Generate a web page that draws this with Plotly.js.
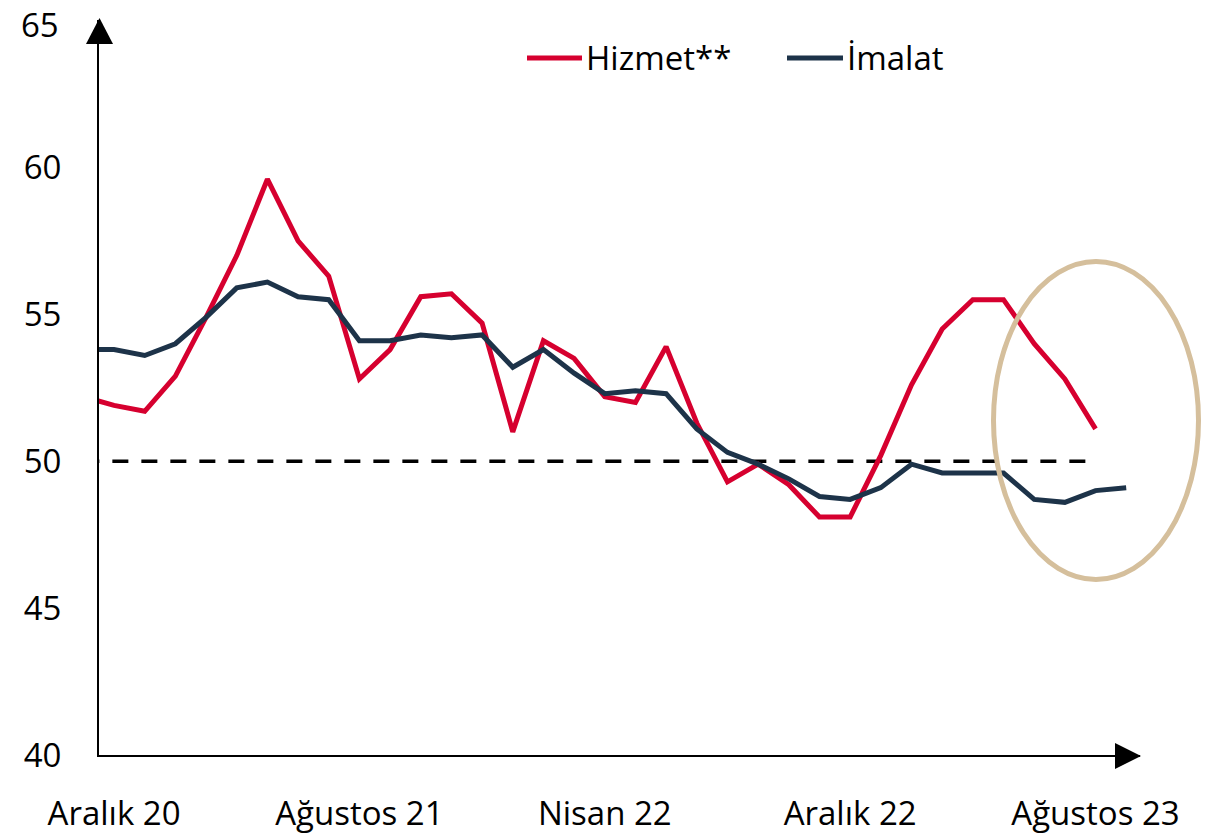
<!DOCTYPE html>
<html>
<head>
<meta charset="utf-8">
<script src="https://cdn.plot.ly/plotly-3.0.1.min.js"></script>
<style>
  html, body { margin: 0; padding: 0; background: #ffffff; }
  #chart { width: 1219px; height: 837px; }
</style>
</head>
<body>
<div id="chart"></div>
<script>
// ---- data ----
const months = [
  "Kasım 20", "Aralık 20",
  "Ocak 21", "Şubat 21", "Mart 21", "Nisan 21", "Mayıs 21", "Haziran 21",
  "Temmuz 21", "Ağustos 21", "Eylül 21", "Ekim 21", "Kasım 21", "Aralık 21",
  "Ocak 22", "Şubat 22", "Mart 22", "Nisan 22", "Mayıs 22", "Haziran 22",
  "Temmuz 22", "Ağustos 22", "Eylül 22", "Ekim 22", "Kasım 22", "Aralık 22",
  "Ocak 23", "Şubat 23", "Mart 23", "Nisan 23", "Mayıs 23", "Haziran 23",
  "Temmuz 23", "Ağustos 23", "Eylül 23"
];
const hizmet = [
  52.2, 51.9,
  51.7, 52.9, 54.9, 57.0, 59.6, 57.5,
  56.3, 52.8, 53.8, 55.6, 55.7, 54.7,
  51.0, 54.1, 53.5, 52.2, 52.0, 53.9,
  51.3, 49.3, 49.9, 49.2, 48.1, 48.1,
  50.2, 52.6, 54.5, 55.5, 55.5, 54.0,
  52.8, 51.1, null
];
const imalat = [
  53.8, 53.8,
  53.6, 54.0, 54.9, 55.9, 56.1, 55.6,
  55.5, 54.1, 54.1, 54.3, 54.2, 54.3,
  53.2, 53.8, 53.0, 52.3, 52.4, 52.3,
  51.1, 50.3, 49.9, 49.4, 48.8, 48.7,
  49.1, 49.9, 49.6, 49.6, 49.6, 48.7,
  48.6, 49.0, 49.1
];
const tickLabels = ["Aralık 20", "Ağustos 21", "Nisan 22", "Aralık 22", "Ağustos 23"];
const yTicks = [40, 45, 50, 55, 60, 65];
const referenceLevel = 50;
const seriesNames = ["Hizmet**", "İmalat"];
const seriesColors = ["#D6002F", "#1D3349"];

// ---- geometry helpers (plot area in pixels) ----
const W = 1219, H = 837;
const L = 99, R = 1140, T = 20, B = 755;
const px = p => (p - L) / (R - L);
const py = p => (B - p) / (B - T);

const lastHizmet = hizmet.reduce((a, v, i) => (v !== null ? i : a), 0);
const yTop = yTicks[yTicks.length - 1];
const yTicksLower = yTicks.slice(0, -1);

const traces = [
  {
    x: [months[0], months[lastHizmet]],
    y: [referenceLevel, referenceLevel],
    mode: "lines",
    line: { color: "#000000", width: 3.5, dash: "16px,13px" },
    hoverinfo: "skip",
    showlegend: false
  },
  {
    name: seriesNames[0],
    x: months, y: hizmet,
    mode: "lines",
    line: { color: seriesColors[0], width: 5 },
    showlegend: false
  },
  {
    name: seriesNames[1],
    x: months, y: imalat,
    mode: "lines",
    line: { color: seriesColors[1], width: 5 },
    showlegend: false
  }
];

const font = { family: "'Open Sans', 'Noto Sans', sans-serif", size: 33, color: "#000000" };

const shapes = [
  // y-axis arrow head
  {
    type: "path", xref: "paper", yref: "paper",
    path: `M ${px(L - 13)},${py(44)} L ${px(L + 0.5)},${py(18)} L ${px(L + 14)},${py(44)} Z`,
    fillcolor: "#000000", line: { width: 0 }
  },
  // x-axis arrow head
  {
    type: "path", xref: "paper", yref: "paper",
    path: `M ${px(1115)},${py(743)} L ${px(1141)},${py(756)} L ${px(1115)},${py(769)} Z`,
    fillcolor: "#000000", line: { width: 0 }
  },
  // highlight ellipse
  {
    type: "circle", xref: "paper", yref: "paper",
    x0: px(993.5), x1: px(1198.5), y0: py(579.5), y1: py(261.5),
    line: { color: "#D5BF9C", width: 5 }, fillcolor: "rgba(0,0,0,0)"
  },
  // legend line samples
  {
    type: "line", xref: "paper", yref: "paper",
    x0: px(527), x1: px(582), y0: py(58), y1: py(58),
    line: { color: seriesColors[0], width: 5 }
  },
  {
    type: "line", xref: "paper", yref: "paper",
    x0: px(787), x1: px(843), y0: py(58), y1: py(58),
    line: { color: seriesColors[1], width: 5 }
  }
];

const annotations = [
  {
    xref: "paper", yref: "paper", x: px(584), y: py(58),
    xanchor: "left", yanchor: "middle", showarrow: false,
    text: seriesNames[0], font: font
  },
  {
    xref: "paper", yref: "paper", x: px(845), y: py(58),
    xanchor: "left", yanchor: "middle", showarrow: false,
    text: seriesNames[1], font: font
  },
  // top tick label (kept inside the page)
  {
    xref: "paper", yref: "y", x: px(61), y: yTop, yshift: -4,
    xanchor: "right", yanchor: "middle", showarrow: false,
    text: String(yTop), font: font
  }
];

const layout = {
  width: W, height: H,
  margin: { l: L, r: W - R, t: T, b: H - B, pad: 0 },
  paper_bgcolor: "#ffffff",
  plot_bgcolor: "#ffffff",
  font: font,
  showlegend: false,
  xaxis: {
    type: "category",
    categoryorder: "array",
    categoryarray: months,
    range: [0.51, 34.45],
    showgrid: false, zeroline: false,
    showline: true, linewidth: 2, linecolor: "#000000",
    tickmode: "array", tickvals: tickLabels, ticktext: tickLabels,
    ticks: "", ticklabelstandoff: 28,
    tickfont: font,
    fixedrange: true
  },
  yaxis: {
    range: [40, 65.02],
    showgrid: false, zeroline: false,
    showline: true, linewidth: 2, linecolor: "#000000",
    tickmode: "array", tickvals: yTicksLower, ticktext: yTicksLower.map(String),
    ticks: "", ticklabelstandoff: 29,
    tickfont: font,
    fixedrange: true
  },
  shapes: shapes,
  annotations: annotations
};

Plotly.newPlot("chart", traces, layout, { displayModeBar: false, staticPlot: true });
</script>
</body>
</html>
